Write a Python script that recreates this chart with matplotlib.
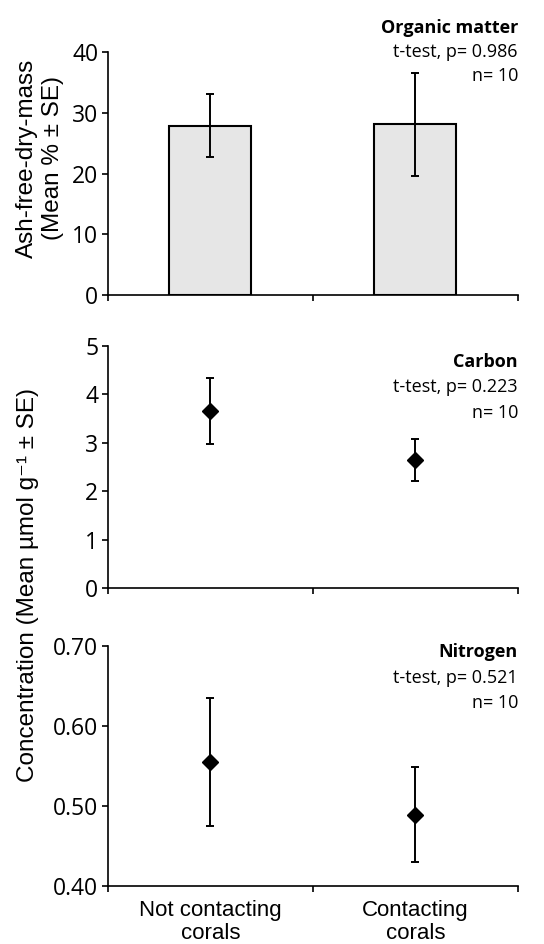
import matplotlib
matplotlib.use("Agg")
import matplotlib.pyplot as plt

# --- data -------------------------------------------------------------------
groups = ["Not contacting\ncorals", "Contacting\ncorals"]

om_mean = [27.9, 28.1]
om_se = [5.2, 8.5]

c_mean = [3.65, 2.65]
c_se = [0.68, 0.43]

n_mean = [0.555, 0.489]
n_se = [0.080, 0.060]

panels = [
    ("Organic matter", "t-test, p= 0.986", "n= 10"),
    ("Carbon", "t-test, p= 0.223", "n= 10"),
    ("Nitrogen", "t-test, p= 0.521", "n= 10"),
]

plt.rcParams["font.family"] = ["Liberation Sans", "DejaVu Sans"]
TICKFONT = ["Open Sans", "DejaVu Sans"]

fig = plt.figure(figsize=(5.44, 9.44), dpi=100)
left, width = 0.1985, 0.7535
ax1 = fig.add_axes([left, 0.6875, width, 0.2574])
ax2 = fig.add_axes([left, 0.3768, width, 0.2567])
ax3 = fig.add_axes([left, 0.0618, width, 0.2539])

xpos = [0.5, 1.5]

# --- panel 1: bars -----------------------------------------------------------
ax1.bar(xpos, om_mean, width=0.4, color="#e6e6e6", edgecolor="black",
        linewidth=1.5, zorder=2)
ax1.errorbar(xpos, om_mean, yerr=om_se, fmt="none", ecolor="black",
             elinewidth=1.4, capsize=3, capthick=1.4, zorder=3)
ax1.set_ylim(0, 40)
ax1.set_yticks([0, 10, 20, 30, 40])

# --- panel 2 & 3: diamonds ---------------------------------------------------
for ax, m, s in [(ax2, c_mean, c_se), (ax3, n_mean, n_se)]:
    ax.errorbar(xpos, m, yerr=s, fmt="D", color="black", markersize=8,
                elinewidth=1.4, capsize=3, capthick=1.4)

ax2.set_ylim(0, 5)
ax2.set_yticks([0, 1, 2, 3, 4, 5])
ax3.set_ylim(0.40, 0.70)
ax3.set_yticks([0.40, 0.50, 0.60, 0.70])
ax3.set_yticklabels(["0.40", "0.50", "0.60", "0.70"])

# y positions (axes fraction) of title / test / n lines in each panel
text_y = [(1.10, 1.0, 0.90), (0.934, 0.83, 0.724), (0.975, 0.867, 0.762)]

for ax, (title, test, n), ys in zip([ax1, ax2, ax3], panels, text_y):
    ax.set_xlim(0, 2)
    ax.set_xticks([0, 1, 2])
    ax.set_xticklabels([])
    ax.spines["top"].set_visible(False)
    ax.spines["right"].set_visible(False)
    ax.spines["left"].set_linewidth(1.2)
    ax.spines["bottom"].set_linewidth(1.2)
    ax.tick_params(direction="out", length=4, width=1.2, pad=3)
    for lab in ax.get_yticklabels():
        lab.set_family(TICKFONT)
        lab.set_fontsize(16.5)
    ax.text(1.0, ys[0], title, transform=ax.transAxes, ha="right",
            va="center", fontsize=13, fontweight="bold", family=TICKFONT)
    ax.text(1.0, ys[1], test, transform=ax.transAxes, ha="right",
            va="center", fontsize=13, family=TICKFONT)
    ax.text(1.0, ys[2], n, transform=ax.transAxes, ha="right",
            va="center", fontsize=13, family=TICKFONT)

# category labels under the bottom panel
for x, g in zip(xpos, groups):
    ax3.text(x, -0.06, g, transform=ax3.get_xaxis_transform(), ha="center",
             va="top", fontsize=16, linespacing=1.1)

# y labels
fig.text(0.0735, 0.8326, "Ash-free-dry-mass\n(Mean % \u00b1 SE)", rotation=90,
         ha="center", va="center", fontsize=17.5, linespacing=1.2)
fig.text(0.051, 0.38, "Concentration (Mean \u00b5mol g\u207b\u00b9 \u00b1 SE)",
         rotation=90, ha="center", va="center", fontsize=17.5)

fig.savefig("out.png", dpi=100)
